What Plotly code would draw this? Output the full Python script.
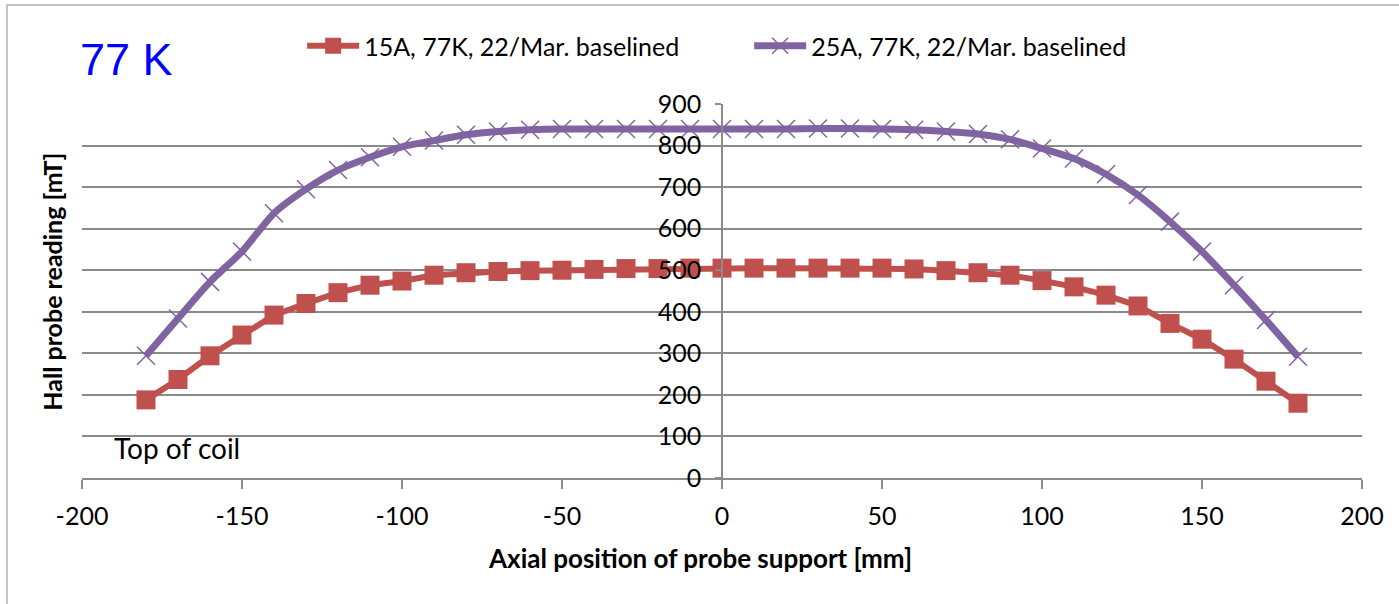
import plotly.graph_objects as go

positions = [-180, -170, -160, -150, -140, -130, -120, -110, -100, -90, -80, -70, -60, -50, -40, -30, -20, -10,
             0, 10, 20, 30, 40, 50, 60, 70, 80, 90, 100, 110, 120, 130, 140, 150, 160, 170, 180]
red_15A = [188, 237, 294, 344, 392, 420, 446, 464, 474, 488, 494, 497, 499, 500, 502, 504, 504, 505,
           505, 505, 505, 505, 505, 505, 503, 499, 494, 488, 475, 460, 440, 414, 372, 334, 286, 233, 180]
purple_25A = [294, 384, 472, 545, 637, 695, 741, 772, 797, 812, 826, 834, 838, 840, 840, 840, 840, 840,
              840, 840, 840, 841, 841, 840, 838, 834, 828, 815, 793, 769, 731, 681, 617, 545, 464, 380, 292]
name_red = "15A, 77K, 22/Mar. baselined"
name_purple = "25A, 77K, 22/Mar. baselined"
x_ticks = [-200, -150, -100, -50, 0, 50, 100, 150, 200]
x_ticktext = ["-200", "-150", "-100", "-50", "0", "50", "100", "150", "200"]
y_ticks = [0, 100, 200, 300, 400, 500, 600, 700, 800, 900]

FONT = "Lato"
GRID = "#8a8a8a"
FS = 25

fig = go.Figure()
fig.add_trace(go.Scatter(
    x=positions, y=red_15A, name=name_red, mode="lines+markers",
    line=dict(color="#C0504D", width=6),
    marker=dict(symbol="square", size=19, color="#C0504D"),
))
fig.add_trace(go.Scatter(
    x=positions, y=purple_25A, name=name_purple, mode="lines+markers",
    line=dict(color="#8064A2", width=7, shape="spline", smoothing=0.6),
    marker=dict(symbol="x-thin", size=18, color="#8064A2", line=dict(color="#8064A2", width=1.5)),
))

fig.update_layout(
    width=1399, height=604,
    margin=dict(l=82, r=37, t=104, b=126),
    paper_bgcolor="white", plot_bgcolor="white",
    font=dict(family=FONT, size=FS, color="#000000"),
    showlegend=True,
    legend=dict(orientation="h", x=0.172, xanchor="left", y=1.155, yanchor="middle",
                font=dict(family=FONT, size=FS, color="#000000"),
                itemwidth=52, entrywidth=380, entrywidthmode="pixels",
                bgcolor="rgba(0,0,0,0)"),
    xaxis=dict(range=[-200, 200], tickvals=x_ticks, ticktext=x_ticktext, showgrid=False, zeroline=False,
               showline=True, linecolor=GRID, linewidth=1.5,
               ticks="outside", ticklen=9, tickcolor=GRID, tickwidth=1.5,
               ticklabelstandoff=6,
               tickfont=dict(family=FONT, size=FS, color="#000000")),
    yaxis=dict(range=[0, 900], tickvals=y_ticks, anchor="free", position=0.5,
               showgrid=True, gridcolor=GRID, gridwidth=1.5, zeroline=False,
               showline=True, linecolor=GRID, linewidth=1.5,
               ticks="outside", ticklen=6, tickcolor=GRID, tickwidth=1.5,
               ticklabelstandoff=9,
               tickfont=dict(family=FONT, size=FS, color="#000000")),
    annotations=[
        dict(text="77 K", xref="paper", yref="paper", x=-0.003, y=1.118, xanchor="left", yanchor="middle",
             showarrow=False, font=dict(family="Liberation Sans", size=45, color="#0000FF")),
        dict(text="Top of coil", xref="x", yref="y", x=-190.5, y=72, xanchor="left", yanchor="middle",
             showarrow=False, font=dict(family=FONT, size=28, color="#000000")),
        dict(text="<b>Hall probe reading [mT]</b>", xref="paper", yref="paper", x=-0.0234, y=0.525,
             xanchor="center", yanchor="middle", textangle=-90, showarrow=False,
             font=dict(family=FONT, size=25, color="#000000")),
        dict(text="<b>Axial position of probe support [mm]</b>", xref="paper", yref="paper", x=0.483, y=-0.214,
             xanchor="center", yanchor="middle", showarrow=False,
             font=dict(family=FONT, size=26, color="#000000")),
    ],
    shapes=[
        dict(type="rect", xref="paper", yref="paper", x0=(7 - 82) / 1280, x1=1.2, y0=-0.6, y1=(478 - 5) / 374,
             line=dict(color="#c4c4c4", width=2), layer="below"),
    ],
)

fig.write_html("out.html")
